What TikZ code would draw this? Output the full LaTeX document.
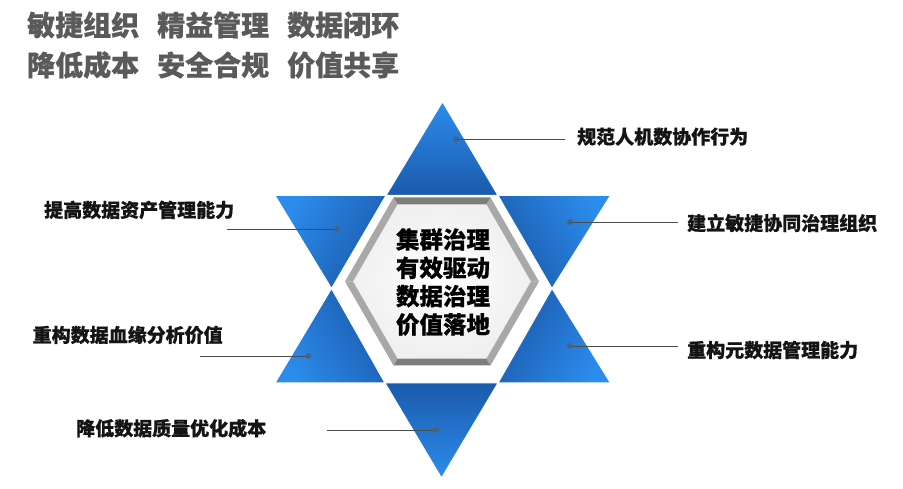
\documentclass[tikz,border=0pt]{standalone}
\usepackage{fontspec}
\setmainfont{Noto Sans CJK SC}[BoldFeatures={FakeBold=0.6}]
\definecolor{trilight}{RGB}{44,140,236}
\definecolor{tridark}{RGB}{27,90,172}
\definecolor{titlegray}{RGB}{90,90,90}
\definecolor{hexdark}{RGB}{125,125,125}
\definecolor{hexlight}{RGB}{168,168,168}
\definecolor{leadergray}{RGB}{75,75,75}
\definecolor{dotcol}{RGB}{75,95,120}
\definecolor{labelblack}{RGB}{20,20,20}
\tikzset{
  startri/.style={top color=trilight, bottom color=tridark, draw=white, line width=1pt},
  titletext/.style={anchor=west, inner sep=0pt, font=\fontsize{28}{30}\selectfont\bfseries, text=titlegray},
  labeltext/.style={anchor=west, inner sep=0pt, font=\fontsize{19}{21}\selectfont\bfseries, text=labelblack},
  centertext/.style={inner sep=0pt, align=center, font=\fontsize{23.5}{28.3}\selectfont\bfseries, text=black},
  leader/.style={draw=leadergray, line width=0.8pt},
  leaderdot/.style={fill=dotcol, fill opacity=0.8},
}
\begin{document}
\begin{tikzpicture}[x=1pt,y=1pt]
\useasboundingbox (0,0) rectangle (903,489);
% title
\node[titletext] (ta) at (27,464) {敏捷组织};
\node[titletext] (tb) at (157,464) {精益管理};
\node[titletext] (tc) at (287,464) {数据闭环};
\node[titletext] (td) at (27,424) {降低成本};
\node[titletext] (te) at (157,424) {安全合规};
\node[titletext] (tf) at (287,424) {价值共享};
% star coordinates
\coordinate (A1) at (442.5,387.3);
\coordinate (A4) at (441.5,11);
\coordinate (UL) at (275,293.5);
\coordinate (UR) at (610.5,293.5);
\coordinate (LL) at (275,106);
\coordinate (LR) at (610.5,106);
\coordinate (iTL) at (386,293.5);
\coordinate (iTR) at (498,293.5);
\coordinate (iL) at (331.5,200.5);
\coordinate (iR) at (552,200.5);
\coordinate (iBL) at (385,106);
\coordinate (iBR) at (498,106);
% star points
\path[startri, shading angle=0] (A1) -- (iTL) -- (iTR) -- cycle;
\path[startri, shading angle=60] (UL) -- (iTL) -- (iL) -- cycle;
\path[startri, shading angle=-60] (UR) -- (iTR) -- (iR) -- cycle;
\path[startri, shading angle=120] (LL) -- (iBL) -- (iL) -- cycle;
\path[startri, shading angle=-120] (LR) -- (iBR) -- (iR) -- cycle;
\path[startri, shading angle=180] (A4) -- (iBL) -- (iBR) -- cycle;
% hexagon
\coordinate (hc) at (442,207.5);
\begin{scope}[shift={(hc)}]
  \shade[inner color=white, outer color=black!6] (0:89) -- (60:89) -- (120:89) -- (180:89) -- (240:89) -- (300:89) -- cycle;
  \fill[hexdark] (60:97) -- (120:97) -- (120:89) -- (60:89) -- cycle;
  \fill[hexdark] (240:97) -- (300:97) -- (300:89) -- (240:89) -- cycle;
  \fill[hexlight] (120:97) -- (180:97) -- (180:89) -- (120:89) -- cycle;
  \fill[hexlight] (180:97) -- (240:97) -- (240:89) -- (180:89) -- cycle;
  \fill[hexlight] (0:97) -- (60:97) -- (60:89) -- (0:89) -- cycle;
  \fill[hexlight] (300:97) -- (0:97) -- (0:89) -- (300:89) -- cycle;
\end{scope}
\node[centertext] (core) at (443,207) {集群治理\\有效驱动\\数据治理\\价值落地};
% leader dots and line ends
\coordinate (d1) at (456,349.7);
\coordinate (d2) at (570,267);
\coordinate (d3) at (570,143);
\coordinate (d4) at (337,260);
\coordinate (d5) at (308.5,133);
\coordinate (d6) at (436.5,59);
\coordinate (e1) at (565,349.7);
\coordinate (e2) at (678,267);
\coordinate (e3) at (678,143);
\coordinate (e4) at (227,260);
\coordinate (e5) at (199.5,133);
\coordinate (e6) at (327,59);
\foreach \i in {1,...,6} {
  \draw[leader] (d\i) -- (e\i);
  \fill[leaderdot] (d\i) circle (3);
}
% labels
\node[labeltext] (l1) at (577,352.3) {规范人机数协作行为};
\node[labeltext] (l2) at (687,266) {建立敏捷协同治理组织};
\node[labeltext] (l3) at (687,139) {重构元数据管理能力};
\node[labeltext] (l4) at (44,279) {提高数据资产管理能力};
\node[labeltext] (l5) at (32.5,154) {重构数据血缘分析价值};
\node[labeltext] (l6) at (76,60.7) {降低数据质量优化成本};
\end{tikzpicture}
\end{document}
